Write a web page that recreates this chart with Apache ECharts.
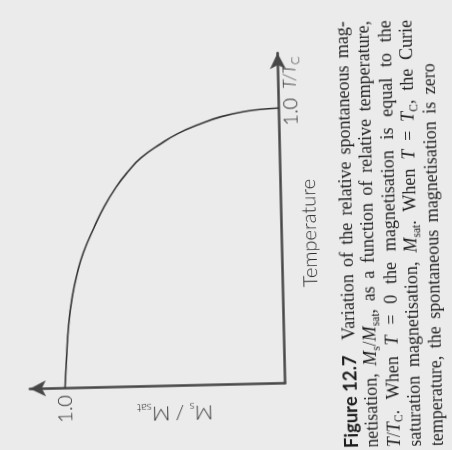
<!DOCTYPE html>
<html>
<head>
<meta charset="utf-8">
<script src="https://cdn.jsdelivr.net/npm/echarts@6/dist/echarts.min.js"></script>
<style>
  html, body { margin: 0; padding: 0; width: 452px; height: 450px; overflow: hidden; background: #ebebeb; }
  /* the printed page sits slightly askew */
  #chart { width: 452px; height: 450px; transform: rotate(-1.3deg); transform-origin: 226px 225px; }
</style>
</head>
<body>
<div id="chart"></div>
<script>
// Relative temperature T/Tc (runs up the page) and relative spontaneous
// magnetisation Ms/Msat (runs leftwards), the figure being printed sideways.
const tempRatio = [0, 0.11, 0.23, 0.33, 0.415, 0.49, 0.58, 0.655, 0.725, 0.78, 0.83, 0.88, 0.915, 0.945, 0.973, 0.992, 0.998, 1.0];
const magRatio  = [1.0, 0.99, 0.977, 0.958, 0.933, 0.903, 0.852, 0.804, 0.748, 0.693, 0.631, 0.539, 0.462, 0.37, 0.263, 0.141, 0.05, 0];

const magTicks = [1.0];
const tempTicks = [1.0];

const captionLines = [
  ['{b|Figure 12.7}', 'Variation', 'of', 'the', 'relative', 'spontaneous', 'mag-'],
  ['netisation,', '{i|M}{s|s}/{i|M}{s|sat},', 'as', 'a', 'function', 'of', 'relative', 'temperature,'],
  ['{i|T}/{i|T}{s|C}.', 'When', '{i|T}', '=', '0', 'the', 'magnetisation', 'is', 'equal', 'to', 'the'],
  ['saturation', 'magnetisation,', '{i|M}{s|sat}.', 'When', '{i|T}', '=', '{i|T}{s|C},', 'the', 'Curie'],
  ['temperature,', 'the', 'spontaneous', 'magnetisation', 'is', 'zero']
];

const SERIF = "'Liberation Serif', 'Times New Roman', serif";
const SANS = "Lato, 'Open Sans', sans-serif";
const INK = '#1c1c1c';
const LABEL_INK = '#2c2c2c';
const AXIS_INK = '#474747';
const LABEL_SIZE = 20;

const MAG_MAX = 1.16;   // axis runs a little past saturation, ending in an arrow
const TEMP_MAX = 1.2;

const chart = echarts.init(document.getElementById('chart'), null, { renderer: 'canvas' });

const lineStyle = { color: AXIS_INK, width: 2.5 };

chart.setOption({
  animation: false,
  backgroundColor: 'transparent',
  grid: { left: 26.2, right: 170.6, top: 54.2, bottom: 65.7, containLabel: false, outerBoundsMode: 'none' },
  xAxis: {
    type: 'value', min: 0, max: MAG_MAX, interval: 1, inverse: true,
    splitLine: { show: false }, axisTick: { show: false },
    axisLine: { onZero: false, symbol: ['arrow', 'none'], symbolSize: [12, 16], lineStyle },
    axisLabel: {
      rotate: 90, margin: 7, color: LABEL_INK, fontFamily: SANS, fontWeight: 300, fontSize: LABEL_SIZE,
      align: 'right', verticalAlign: 'middle',
      showMaxLabel: false,
      formatter: v => magTicks.includes(v) ? v.toFixed(1) : ''
    }
  },
  yAxis: {
    type: 'value', min: 0, max: TEMP_MAX, interval: 1, position: 'right',
    splitLine: { show: false }, axisTick: { show: false }, axisLabel: { show: false },
    axisLine: { onZero: false, symbol: ['none', 'arrow'], symbolSize: [12, 16], lineStyle }
  },
  series: [{
    type: 'line',
    data: magRatio.map((m, i) => [m, tempRatio[i]]),
    smooth: 0.5,
    showSymbol: false,
    symbol: 'none',
    lineStyle: { color: '#333333', width: 1.6 }
  }]
});

function clone(o) { return JSON.parse(JSON.stringify(o)); }
function textWidth(text, style) {
  const t = new echarts.graphic.Text({ style: Object.assign(clone(style), { text }) });
  return t.getBoundingRect().width;
}

const graphics = [];

// Axis annotations placed from the axis scales
const px = (m, t) => chart.convertToPixel({ gridIndex: 0 }, [m, t]);
const labelBase = { fontFamily: SANS, fontWeight: 300, fontSize: LABEL_SIZE, fill: LABEL_INK, lineHeight: 24 };
const labelRich = {
  it: Object.assign(clone(labelBase), { fontStyle: 'italic', fontSize: 17 }),
  m:  clone(labelBase),
  g:  Object.assign(clone(labelBase), { width: 9 }),
  sb: { fontFamily: SANS, fontWeight: 300, fontSize: 12, fill: LABEL_INK, lineHeight: 14, verticalAlign: 'bottom' }
};

const tOne = px(0, tempTicks[0]);
graphics.push({
  type: 'text', x: tOne[0] + 12, y: tOne[1] + 18, rotation: Math.PI / 2, silent: true,
  style: Object.assign(clone(labelBase), {
    text: '{m|' + tempTicks[0].toFixed(1) + '}{g| }{it|T/T}{sb|C}', rich: clone(labelRich),
    textAlign: 'left', textVerticalAlign: 'middle', align: 'left', verticalAlign: 'middle'
  })
});

const tName = px(0, 0.543);
graphics.push({
  type: 'text', x: tName[0] + 28.4, y: tName[1], rotation: Math.PI / 2, silent: true,
  style: Object.assign(clone(labelBase), {
    text: 'Temperature',
    textAlign: 'center', textVerticalAlign: 'middle', align: 'center', verticalAlign: 'middle'
  })
});

const mName = px(0.503, 0);
graphics.push({
  type: 'text', x: mName[0], y: mName[1] + 27.5, rotation: Math.PI, silent: true,
  style: Object.assign(clone(labelBase), {
    text: '{m|M}{sb|s} {m|/} {m|M}{sb|sat}', rich: clone(labelRich),
    textAlign: 'center', textVerticalAlign: 'middle', align: 'center', verticalAlign: 'middle'
  })
});

// Caption, set sideways in justified lines
const capBase = { fontFamily: SERIF, fontSize: 18, fill: INK, lineHeight: 22 };
const capRich = {
  i: { fontFamily: SERIF, fontSize: 18, fontStyle: 'italic', fill: INK, lineHeight: 22 },
  s: { fontFamily: SERIF, fontSize: 11.5, fill: INK, lineHeight: 13, verticalAlign: 'bottom' },
  b: { fontFamily: SANS, fontSize: 18.5, fontWeight: 'bold', fill: INK, lineHeight: 22 }
};
const capCols = [347, 368.5, 390, 411.5, 433];
const capStart = 451, capEnd = 24;
const capStyle = Object.assign(clone(capBase), { rich: capRich });

captionLines.forEach((words, li) => {
  const widths = words.map(w => textWidth(w, capStyle));
  const total = widths.reduce((a, b) => a + b, 0);
  const lead = li === 0 ? 8 : 0;
  const justified = li < captionLines.length - 1;
  const gap = justified ? (capStart - capEnd - total - lead) / (words.length - 1) : 7.5;
  let y = capStart;
  words.forEach((w, wi) => {
    graphics.push({
      type: 'text', x: capCols[li], y, rotation: Math.PI / 2, silent: true,
      style: Object.assign(clone(capStyle), {
        text: w, textAlign: 'left', textVerticalAlign: 'middle', align: 'left', verticalAlign: 'middle'
      })
    });
    y -= widths[wi] + gap + (wi === 0 ? lead : 0);
  });
});

chart.setOption({ graphic: graphics });
</script>
</body>
</html>
